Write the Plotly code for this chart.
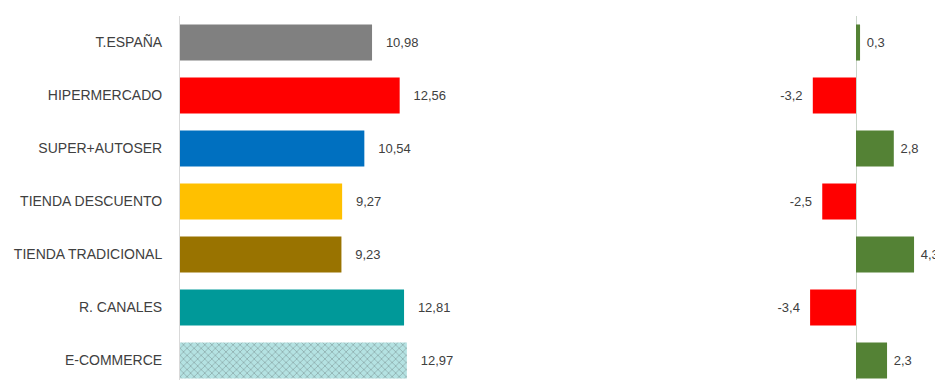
import plotly.graph_objects as go

categories = ["T.ESPAÑA", "HIPERMERCADO", "SUPER+AUTOSER", "TIENDA DESCUENTO",
              "TIENDA TRADICIONAL", "R. CANALES", "E-COMMERCE"]
values = [10.98, 12.56, 10.54, 9.27, 9.23, 12.81, 12.97]
variation = [0.3, -3.2, 2.8, -2.5, 4.3, -3.4, 2.3]

bar_colors = ["#808080", "#ff0000", "#0070c0", "#ffc000", "#997300", "#009999", "#b4e2e2"]
patterns = ["", "", "", "", "", "", "x"]
var_colors = ["#548235" if v >= 0 else "#ff0000" for v in variation]

def fmt(v):
    return ("%g" % v).replace(".", ",")

NB = "\u00a0"
left_text = [NB * 3 + ("%.2f" % v).replace(".", ",") for v in values]
right_text = [(NB + fmt(v)) if v >= 0 else (fmt(v) + NB * 2) for v in variation]

FONT = "Liberation Sans"
TXT = "#404040"

fig = go.Figure()
fig.add_trace(go.Bar(
    y=categories, x=values, orientation="h", width=0.68,
    marker=dict(color=bar_colors, line=dict(width=0),
                pattern=dict(shape=patterns, fgcolor="#9ad0d0",
                             size=5, solidity=0.2, fillmode="overlay")),
    text=left_text, textposition="outside", cliponaxis=False, constraintext="none",
    textfont=dict(family=FONT, size=13, color=TXT),
    xaxis="x", yaxis="y", showlegend=False, hoverinfo="skip",
))
fig.add_trace(go.Bar(
    y=categories, x=variation, orientation="h", width=0.68,
    marker=dict(color=var_colors, line=dict(width=0)),
    text=right_text, textposition="outside", cliponaxis=False, constraintext="none",
    textfont=dict(family=FONT, size=13, color=TXT),
    xaxis="x2", yaxis="y2", showlegend=False, hoverinfo="skip",
))

# page has an 8px body margin; compensate so plot lands at reference pixels
OFF = 8
W, H = 943 - OFF, 380 - OFF
L = 180 - OFF
plotw = W - L
x1_end = 480 - OFF
x2_start = 740 - OFF
zero2 = 856 - OFF
ppu1 = 17.49
ppu2 = 13.5
pitch = 53.0
top_px = 16 - OFF
plot_h = H - top_px
y_bottom = -0.5 + plot_h / pitch

fig.update_layout(
    width=W, height=H,
    margin=dict(l=L, r=0, t=top_px, b=0, autoexpand=False),
    paper_bgcolor="white", plot_bgcolor="white",
    font=dict(family=FONT, size=13, color=TXT),
    bargap=0.32,
    xaxis=dict(domain=[0, (x1_end - L) / plotw], range=[0, (x1_end - L) / ppu1],
               visible=False, fixedrange=True),
    xaxis2=dict(domain=[(x2_start - L) / plotw, 1],
                range=[(x2_start - zero2) / ppu2, (W - zero2) / ppu2],
                showgrid=False, showticklabels=False, ticks="",
                zeroline=True, zerolinecolor="#c9d4c9", zerolinewidth=1, fixedrange=True),
    yaxis=dict(categoryorder="array", categoryarray=categories,
               range=[y_bottom, -0.5], showgrid=False, ticks="", automargin=False,
               showline=True, linecolor="#d9d9d9", linewidth=1,
               ticklabelstandoff=14,
               tickfont=dict(family=FONT, size=14, color=TXT)),
    yaxis2=dict(anchor="x2", matches="y", showticklabels=False, showgrid=False,
                ticks="", showline=False),
)

fig.write_html("out.html")
